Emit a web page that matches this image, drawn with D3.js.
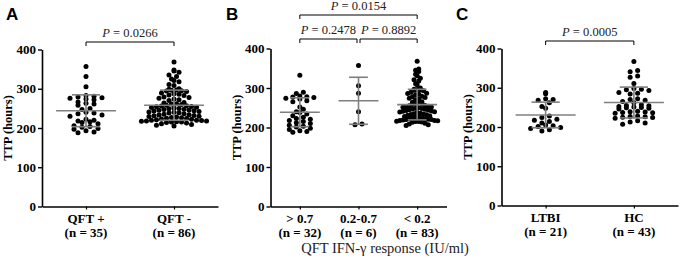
<!DOCTYPE html>
<html>
<head>
<meta charset="utf-8">
<script src="https://cdn.jsdelivr.net/npm/d3@7"></script>
<style>
  body { margin: 0; background: #fff; }
  svg { display: block; }
  .tick text { font-family: "Liberation Serif", "Times New Roman", serif; font-weight: bold; font-size: 13px; fill: #000; }
  .cat { font-family: "Liberation Serif", "Times New Roman", serif; font-weight: bold; font-size: 13px; }
  .ylab { font-family: "Liberation Serif", "Times New Roman", serif; font-weight: bold; font-size: 12.5px; }
  .pval { font-family: "Liberation Serif", "Times New Roman", serif; font-size: 12.5px; fill: #222; }
  .xtitle { font-family: "Liberation Serif", "Times New Roman", serif; font-size: 14.5px; fill: #222; }
  .letter { font-family: "Liberation Sans", Arial, sans-serif; font-weight: bold; font-size: 17px; }
</style>
</head>
<body>
<svg id="chart" width="680" height="264"></svg>
<script>
// TTP (hours), one array per group
var qftPos = [357, 331, 305, 283, 281, 279, 277, 276, 274, 272, 266, 263, 261, 258, 250, 247,
  240, 238, 236, 233, 230, 222, 220, 218, 216, 214, 211, 206, 204, 202, 199, 197, 193, 190, 188];
var qftNeg = [368, 348, 345, 342, 335, 331, 325, 321, 318, 311, 308,
  300, 299, 297, 296, 295, 294, 293, 289, 287, 286, 284, 283,
  279, 278, 276, 274, 272, 270,
  265, 264, 262, 261, 260, 258, 257, 256, 255, 254, 253, 252,
  251, 250, 249, 248, 247, 246, 245, 244, 243, 242, 241, 240, 239, 238,
  236, 235, 234, 233, 232, 231, 230, 229, 228, 227, 226, 225, 224, 223,
  222, 221, 220, 220, 219, 218, 218, 217, 216, 215, 215, 214, 213,
  211, 209, 207, 205];
var gt07 = [332, 289, 286, 280, 278, 277, 276, 274, 272, 268, 265, 252, 246, 240, 238, 234,
  230, 226, 223, 221, 218, 215, 212, 210, 206, 203, 201, 198, 195, 192, 190, 188];
var mid07 = [357, 306, 287, 240, 209, 207];
var lt02 = [368, 348, 345, 342, 335, 331, 325, 321, 318, 311, 308,
  300, 297, 296, 295, 294, 293, 289, 287, 286, 284, 283,
  279, 278, 276, 274, 272, 270,
  265, 264, 262, 261, 260, 258, 256, 255, 254, 253, 252,
  251, 250, 249, 248, 247, 246, 245, 244, 243, 242, 241, 240, 239, 238,
  236, 235, 234, 233, 232, 231, 229, 228, 227, 226, 225, 224, 223,
  222, 221, 220, 220, 219, 218, 218, 217, 216, 215, 215, 214, 213,
  211, 209, 207, 205];
var ltbi = [288, 285, 272, 268, 270, 262, 252, 248, 228, 224, 220, 217, 214, 210, 205, 203,
  201, 199, 196, 193, 190];
var hc = [367, 344, 341, 330, 327, 311, 298, 296, 295, 293, 288, 286, 284, 272, 270, 268,
  265, 262, 257, 255, 254, 252, 251, 250, 249, 248, 246, 240, 239, 238, 237, 236, 235,
  228, 227, 226, 225, 224, 222, 216, 213, 210, 207];

var yTicks = [0, 100, 200, 300, 400];

var svg = d3.select("#chart");

// groups a panel's values into pixel rows, highest value of a row in the middle
function swarm(values, y, maxW, dotStep, binH) {
  var bins = d3.groups(values, function(v) {
    return Math.round((y(0) - y(v)) / binH);
  });
  var maxCount = d3.max(bins, function(b) { return b[1].length; });
  var sp = maxCount > 1 ? Math.min(dotStep, maxW / (maxCount - 1)) : dotStep;
  var pts = [];
  bins.forEach(function(b) {
    var vs = b[1].slice().sort(d3.descending);
    var n = vs.length;
    var slots = d3.range(n).map(function(j) { return (j - (n - 1) / 2) * sp; });
    slots.sort(function(a, c) { return Math.abs(a) - Math.abs(c) || c - a; });
    vs.forEach(function(v, i) {
      pts.push({ v: v, dx: slots[i] });
    });
  });
  return pts;
}

function panel(opt) {
  var g = svg.append("g");
  var y = d3.scaleLinear().domain([0, 400]).range([opt.y0, opt.y1]);
  var x = d3.scalePoint().domain(opt.cats).range([opt.xl, opt.xr]).padding(0.5);
  var step = x.step();

  g.append("g")
    .attr("transform", "translate(" + opt.xl + ",0)")
    .call(d3.axisLeft(y).tickValues(yTicks).tickSize(4).tickSizeOuter(0).tickPadding(2))
    .call(function(a) {
      a.select(".domain").attr("stroke-width", 1.6);
      a.selectAll(".tick line").attr("stroke-width", 1.4);
    });

  g.append("g")
    .attr("transform", "translate(0," + opt.y0 + ")")
    .call(d3.axisBottom(x).tickSize(3).tickSizeOuter(0).tickFormat(""))
    .call(function(a) {
      a.select(".domain").attr("stroke-width", 1.6);
      a.selectAll(".tick line").attr("stroke-width", 1.2);
    });

  g.append("text")
    .attr("class", "ylab")
    .attr("transform", "translate(" + (opt.xl - 30) + "," + ((opt.y0 + opt.y1) / 2) + ")rotate(-90)")
    .attr("text-anchor", "middle")
    .text("TTP (hours)");

  var labs = g.selectAll(".cat").data(opt.cats).enter().append("text")
    .attr("class", "cat")
    .attr("text-anchor", "middle")
    .attr("x", function(d) { return x(d); })
    .attr("y", opt.y0 + 16);
  labs.append("tspan").text(function(d) { return d; });
  labs.append("tspan")
    .attr("x", function(d) { return x(d); })
    .attr("dy", 14)
    .text(function(d, i) { return opt.ns[i]; });

  opt.series.forEach(function(vals, i) {
    var cx = x(opt.cats[i]);
    var pts = swarm(vals, y, step * opt.spread, opt.dotStep, 4.6);
    g.selectAll(null).data(pts).enter().append("circle")
      .attr("cx", function(d) { return cx + d.dx; })
      .attr("cy", function(d) { return y(d.v); })
      .attr("r", 2.5)
      .attr("fill", "#000");

    var m = d3.mean(vals), sd = d3.deviation(vals);
    var mw = step * 0.68 / 2, cw = step * 0.16;
    var lines = [
      [cx - mw, y(m), cx + mw, y(m)],
      [cx, y(m - sd), cx, y(m + sd)],
      [cx - cw, y(m + sd), cx + cw, y(m + sd)],
      [cx - cw, y(m - sd), cx + cw, y(m - sd)]
    ];
    g.selectAll(null).data(lines).enter().append("line")
      .attr("x1", function(d) { return d[0]; })
      .attr("y1", function(d) { return d[1]; })
      .attr("x2", function(d) { return d[2]; })
      .attr("y2", function(d) { return d[3]; })
      .attr("stroke", "#7f7f7f")
      .attr("stroke-width", 1.6);
  });

  opt.pvals.forEach(function(p) {
    var xa = x(opt.cats[p.a]) + (p.padA || 0), xb = x(opt.cats[p.b]) - (p.padB || 0);
    g.append("path")
      .attr("d", "M" + xa + "," + (p.y + 4) + "V" + p.y + "H" + xb + "V" + (p.y + 4))
      .attr("fill", "none")
      .attr("stroke", "#000")
      .attr("stroke-width", 1);
    var t = g.append("text")
      .attr("class", "pval")
      .attr("text-anchor", "middle")
      .attr("x", (xa + xb) / 2)
      .attr("y", p.y - 5);
    t.append("tspan").attr("font-style", "italic").text("P");
    t.append("tspan").text(" = " + p.text);
  });

  g.append("text")
    .attr("class", "letter")
    .attr("x", opt.letterX)
    .attr("y", 20)
    .text(opt.letter);

  return g;
}

panel({
  letter: "A", letterX: 6,
  xl: 42, xr: 218, y0: 206.5, y1: 49.5,
  spread: 0.74, dotStep: 8,
  cats: ["QFT +", "QFT -"], ns: ["(n = 35)", "(n = 86)"],
  series: [qftPos, qftNeg],
  pvals: [{ a: 0, b: 1, y: 42, text: "0.0266" }]
});

panel({
  letter: "B", letterX: 226,
  xl: 270.5, xr: 446.5, y0: 206.5, y1: 48.5,
  spread: 0.7, dotStep: 7,
  cats: ["> 0.7", "0.2-0.7", "< 0.2"], ns: ["(n = 32)", "(n = 6)", "(n = 83)"],
  series: [gt07, mid07, lt02],
  pvals: [
    { a: 0, b: 1, y: 39, text: "0.2478", padB: 1.5 },
    { a: 1, b: 2, y: 39, text: "0.8892", padA: 1.5 },
    { a: 0, b: 2, y: 15, text: "0.0154" }
  ]
});

svg.append("text")
  .attr("class", "xtitle")
  .attr("text-anchor", "middle")
  .attr("x", 385)
  .attr("y", 253)
  .text("QFT IFN-γ response (IU/ml)");

panel({
  letter: "C", letterX: 456,
  xl: 501.5, xr: 678, y0: 205.5, y1: 48.5,
  spread: 0.72, dotStep: 7.5,
  cats: ["LTBI", "HC"], ns: ["(n = 21)", "(n = 43)"],
  series: [ltbi, hc],
  pvals: [{ a: 0, b: 1, y: 41, text: "0.0005" }]
});
</script>
</body>
</html>
